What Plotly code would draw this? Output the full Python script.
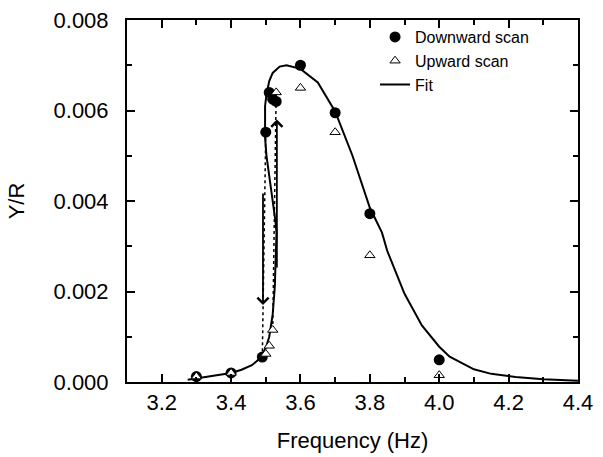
import plotly.graph_objects as go

# ---------------- data ----------------
down_x = [3.30, 3.40, 3.49, 3.50, 3.51, 3.52, 3.53, 3.60, 3.70, 3.80, 4.00]
down_y = [0.00012, 0.00020, 0.00055, 0.00552, 0.00640, 0.00625, 0.00620, 0.00700, 0.00595, 0.00372, 0.00049]

up_x = [3.30, 3.40, 3.50, 3.51, 3.52, 3.53, 3.60, 3.70, 3.80, 4.00]
up_y = [0.00012, 0.00020, 0.00062, 0.00080, 0.00115, 0.00640, 0.00650, 0.00552, 0.00280, 0.00015]

fit_x = [3.275, 3.30, 3.35, 3.40, 3.43, 3.46, 3.48, 3.50, 3.51, 3.52, 3.526, 3.530, 3.531,
         3.528, 3.52, 3.51, 3.502, 3.498, 3.497, 3.498, 3.502, 3.51, 3.52, 3.54, 3.56,
         3.60, 3.65, 3.70, 3.75, 3.80, 3.835, 3.85, 3.90, 3.93, 3.95, 4.00, 4.03,
         4.10, 4.15, 4.22, 4.30, 4.40]
fit_y = [0.00005, 0.00008, 0.00013, 0.00020, 0.00027, 0.00037, 0.00050, 0.00075, 0.00100, 0.00150, 0.00210, 0.00280, 0.00330,
         0.00355, 0.00400, 0.00450, 0.00500, 0.00540, 0.00580, 0.00610, 0.00635, 0.00665, 0.00683, 0.00697, 0.00700,
         0.00692, 0.00662, 0.00598, 0.00500, 0.00385, 0.00330, 0.00290, 0.00195, 0.00152, 0.00125, 0.00078, 0.00056,
         0.00028, 0.00018, 0.00011, 0.00006, 0.00003]

# dotted jump connections (downward jump, upward jump)
jump_down_x = [3.50, 3.49]
jump_down_y = [0.00552, 0.00055]
jump_up_x = [3.52, 3.53]
jump_up_y = [0.00115, 0.00640]

# arrows: (x, y_tail, y_head)
arrow_down = (3.492, 0.0042, 0.0017)
arrow_up = (3.532, 0.0025, 0.0058)

x_ticks = [3.2, 3.4, 3.6, 3.8, 4.0, 4.2, 4.4]
y_ticks = [0.000, 0.002, 0.004, 0.006, 0.008]

FONT = "Liberation Sans, Arial, Helvetica, sans-serif"

fig = go.Figure()

fig.add_trace(go.Scatter(x=jump_down_x, y=jump_down_y, mode="lines",
                         line=dict(color="black", width=1.5, dash="dot"),
                         showlegend=False, hoverinfo="skip"))
fig.add_trace(go.Scatter(x=jump_up_x, y=jump_up_y, mode="lines",
                         line=dict(color="black", width=1.5, dash="dot"),
                         showlegend=False, hoverinfo="skip"))
fig.add_trace(go.Scatter(x=fit_x, y=fit_y, mode="lines", name="Fit",
                         line=dict(color="black", width=2), legendrank=3))
fig.add_trace(go.Scatter(x=down_x, y=down_y, mode="markers", name="Downward scan",
                         marker=dict(symbol="circle", size=11, color="black"),
                         legendrank=1))
fig.add_trace(go.Scatter(x=up_x, y=up_y, mode="markers", name="Upward scan",
                         marker=dict(symbol="triangle-up", size=9, color="white",
                                     line=dict(color="black", width=1)),
                         legendrank=2))

for (ax_x, y_tail, y_head) in [arrow_down, arrow_up]:
    fig.add_annotation(x=ax_x, y=y_head, ax=ax_x, ay=y_tail, xref="x", yref="y",
                       axref="x", ayref="y", showarrow=True, arrowhead=4,
                       arrowsize=1.2, arrowwidth=1.8, arrowcolor="black",
                       standoff=0, startstandoff=0, text="")

axis_common = dict(showline=True, linecolor="black", linewidth=2, mirror="allticks",
                   ticks="inside", ticklen=8, tickwidth=1.5, tickcolor="black",
                   showgrid=False, zeroline=False, automargin=False,
                   tickfont=dict(family=FONT, size=22, color="black"),
                   minor=dict(ticks="inside", ticklen=5, tickwidth=1.5, tickcolor="black"))

fig.update_xaxes(range=[3.1, 4.4], tickvals=x_ticks, ticktext=[f"{v:.1f}" for v in x_ticks],
                 minor_dtick=0.1, minor_tick0=3.1, ticklabelstandoff=0,
                 title=dict(text="Frequency (Hz)", font=dict(family=FONT, size=22, color="black"),
                            standoff=18),
                 **axis_common)
fig.update_yaxes(range=[0, 0.008], tickvals=y_ticks, ticktext=[f"{v:.3f}" for v in y_ticks],
                 minor_dtick=0.001, minor_tick0=0, ticklabelstandoff=12,
                 title=dict(text="Y/R", font=dict(family=FONT, size=22, color="black"),
                            standoff=23),
                 **axis_common)

fig.update_layout(
    width=603, height=457,
    margin=dict(l=127, r=25, t=20, b=75),
    plot_bgcolor="white", paper_bgcolor="white",
    font=dict(family=FONT, color="black"),
    legend=dict(x=0.55, y=1.0, xanchor="left", yanchor="top",
                bgcolor="rgba(0,0,0,0)", font=dict(family=FONT, size=16, color="black"),
                tracegroupgap=0, itemwidth=30),
)

fig.write_html("out.html", config={"displayModeBar": False},
               post_script="document.body.style.margin='0px';")
